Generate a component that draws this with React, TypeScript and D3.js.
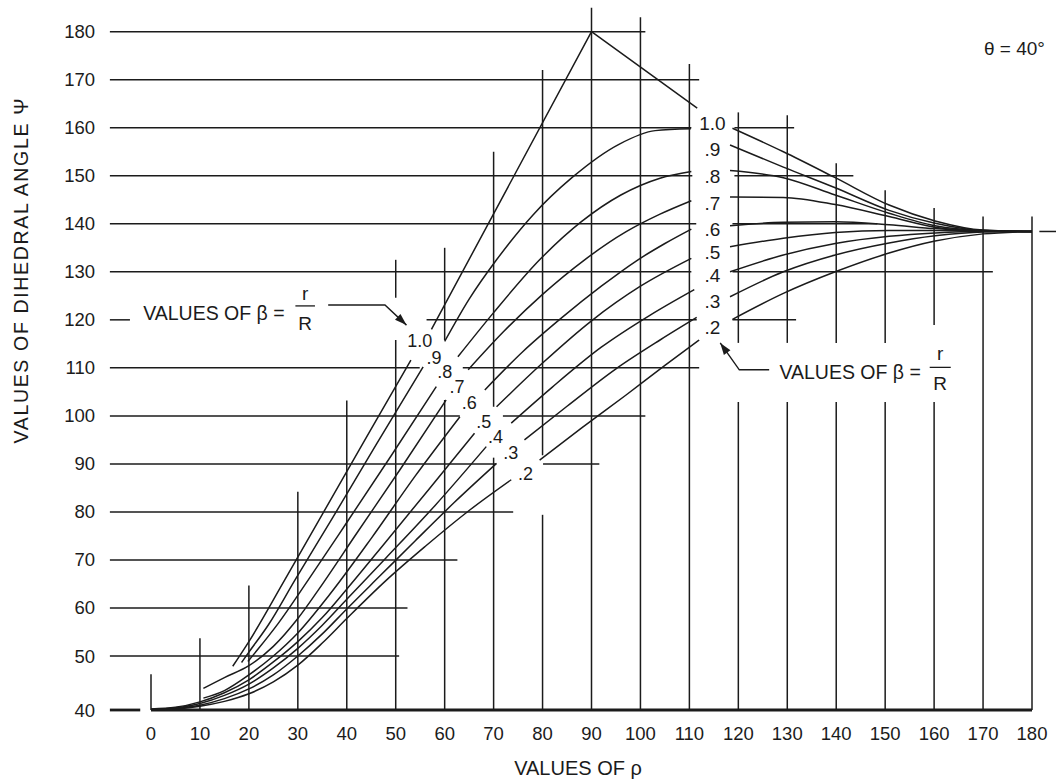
import React from "react";
import * as d3 from "d3";

type P = [number, number];

// ---------- axis ticks ----------
const rhoTicks = [0, 10, 20, 30, 40, 50, 60, 70, 80, 90, 100, 110, 120, 130, 140, 150, 160, 170, 180];
const psiTicks = [40, 50, 60, 70, 80, 90, 100, 110, 120, 130, 140, 150, 160, 170, 180];

// ---------- grid extents (data units) ----------
// horizontal lines: psi value and rho spans
const hGridPsi = [180, 170, 160, 150, 140, 130, 120, 110, 100, 90, 80, 70, 60, 50];
const hGridSpans: P[][] = [
  [[-8.4, 101]],
  [[-8.4, 112]],
  [[-8.4, 110.4], [119.2, 131.4]],
  [[-8.4, 110.6], [119.2, 143.5]],
  [[-8.4, 111.4], [118.8, 148.4]],
  [[-8.4, 110.4], [118.8, 172]],
  [[-8.4, -4.3], [56.3, 111.5], [118.8, 131.8]],
  [[-8.4, 54.9], [63.7, 112]],
  [[-8.4, 63.1], [71.9, 101]],
  [[-8.4, 70.5], [80.1, 91.6]],
  [[-8.4, 74]],
  [[-8.4, 62.6]],
  [[-8.4, 52.4]],
  [[-8.4, 50.7]],
];
// vertical lines: rho value and psi spans
const vGridRho = [0, 10, 20, 30, 40, 50, 60, 70, 80, 90, 100, 110, 120, 130, 140, 150, 160, 170, 180];
const vGridSpans: P[][] = [
  [[40, 46.6]],
  [[40, 53.7]],
  [[40, 64.7]],
  [[40, 84.2]],
  [[40, 103.2]],
  [[40, 115.8], [124.6, 132.5]],
  [[40, 103.3], [115.8, 135]],
  [[40, 91.3], [101.9, 155]],
  [[40, 79.4], [91.8, 172]],
  [[40, 185]],
  [[40, 183]],
  [[40, 173.3]],
  [[40, 102.9], [115.2, 163.2]],
  [[40, 102.9], [115.2, 162.6]],
  [[40, 102.9], [115.2, 152.6]],
  [[40, 102.9], [115.2, 147]],
  [[40, 102.9], [118.9, 143.3]],
  [[40, 141.5]],
  [[40, 141.5]],
];

// ---------- curves: psi vs rho for each beta = r/R ----------
const betaLabels = ["1.0", ".9", ".8", ".7", ".6", ".5", ".4", ".3", ".2"];

const lowerBranches: P[][] = [
  [[16.7, 48.1], [20, 53], [27.3, 65.8], [35, 79.5], [44, 95.5], [53.1, 111.6]],
  [[18.5, 48.8], [20, 50.8], [24, 56.5], [29.4, 65.8], [37, 78.6], [46, 94], [55.6, 110.2]],
  [[19.8, 49], [22, 51.6], [26, 56.8], [32.1, 65.8], [40, 77.8], [49, 91.6], [58.3, 106.1]],
  [[10.7, 44], [15, 46], [20, 48.2], [25, 52], [30, 57.8], [34.1, 63.6], [42, 75.5], [51, 89], [60.3, 103.3]],
  [[10.7, 42.2], [15, 43.6], [20, 46.5], [25, 50], [30, 54.8], [36.5, 62.8], [45, 74.5], [54, 87.5], [63.1, 99.8]],
  [[0, 40.2], [5, 40.5], [10, 41.5], [15, 43.2], [20, 45.6], [25, 48.9], [30, 53], [35, 58], [39.9, 63.8], [48, 73.8], [57, 85], [66.1, 96.4]],
  [[0, 40.1], [5, 40.4], [10, 41.2], [15, 42.7], [20, 44.8], [25, 47.8], [30, 51.6], [35, 56.4], [40, 61.8], [48, 70.4], [58, 81.3], [68.5, 93.6]],
  [[0, 40], [5, 40.3], [10, 40.9], [15, 42.1], [20, 43.9], [25, 46.5], [30, 50], [35, 54.6], [40, 59.8], [47, 66.9], [54, 74], [62, 82], [70.6, 90.1]],
  [[0, 40], [5, 40.2], [10, 40.7], [15, 41.6], [20, 43], [25, 45.2], [30, 48.3], [35, 52.7], [40, 57.8], [48.1, 65.8], [56, 72.8], [65, 80.3], [73.6, 86.7]],
];

const middleBranches: P[][] = [
  [[57.3, 118], [90, 180], [111.6, 164.1]],
  [[60, 115.5], [65, 124.3], [70.6, 132.5], [78, 141.8], [86, 149.6], [95.7, 156.6], [103, 159.4], [110.3, 159.8]],
  [[62.7, 112.3], [70, 121.5], [79.4, 132.5], [88, 140.5], [96, 146], [104, 149.5], [110.4, 150.9]],
  [[64.8, 109.6], [72, 117.5], [80, 125.3], [88.6, 132.5], [97, 138.3], [104, 142], [110.4, 144.8]],
  [[68.2, 105.4], [76, 113.4], [84, 120.5], [92, 127], [99.2, 132.3], [105, 135.9], [110.4, 138.9]],
  [[70.6, 101.9], [80, 111], [90, 119.8], [100, 127], [110.4, 132.8]],
  [[73.6, 98.5], [82, 106], [92, 114.3], [102, 121], [111, 126.3]],
  [[76.3, 95], [85, 102], [95, 109.8], [104, 115.8], [111.5, 120.5]],
  [[79.4, 90.8], [88, 97.5], [97, 104.3], [105, 110.5], [112, 115.8]],
];

const rightBranches: P[][] = [
  [[118.8, 159.9], [129.2, 155.0], [139.8, 149.6], [150.8, 143.9], [160.2, 140.6], [170, 138.7], [180, 138.4]],
  [[118.3, 156.4], [129.2, 151.8], [139.8, 147.5], [150.8, 142.8], [160.2, 140.1], [170, 138.6], [180, 138.4]],
  [[118.3, 151.1], [129.2, 149.6], [139.8, 146.0], [150.8, 142.2], [160.2, 139.6], [170, 138.6], [180, 138.4]],
  [[118.3, 145.6], [129.2, 145.5], [139.8, 144.0], [150.8, 141.5], [160.2, 139.3], [170, 138.5], [180, 138.4]],
  [[118.3, 139.6], [129.2, 140.3], [139.8, 140.4], [150.8, 139.8], [160.2, 139.0], [170, 138.5], [180, 138.4]],
  [[118.3, 135.2], [129.2, 137.0], [139.8, 138.2], [150.8, 138.6], [160.2, 138.6], [170, 138.5], [180, 138.4]],
  [[118.3, 130.0], [129.2, 133.5], [139.8, 135.9], [150.8, 137.4], [160.2, 138.1], [170, 138.4], [180, 138.4]],
  [[118.3, 124.8], [129.2, 130.0], [139.8, 133.5], [150.8, 136.0], [160.2, 137.5], [170, 138.3], [180, 138.4]],
  [[118.8, 120.1], [129.2, 125.5], [139.8, 130.0], [150.8, 133.9], [160.2, 136.4], [170, 137.9], [180, 138.4]],
];
const convergenceTail: P[] = [[181.5, 138.4], [186, 138.4]];

// label anchors (data units)
const diagLabelRho = [54.9, 57.8, 60.0, 62.5, 65.0, 68.0, 70.4, 73.5, 76.5];
const diagLabelPsi = [115.5, 112.0, 109.2, 106.0, 102.7, 98.8, 95.6, 92.2, 88.0];
const rightLabelRho = 114.7;
const rightLabelPsi = [160.9, 155.4, 149.9, 144.3, 138.9, 134.1, 129.3, 123.9, 118.5];

// annotation anchors (data units)
const leftNote = { textRho: -1.6, textPsi: 120.0, fracRho: [29.5, 33.5], fracPsi: 122.9, rPsi: 124.1, RPsi: 117.9 };
const leftArrow: P[] = [[36.2, 123.1], [47.8, 123.1], [52.2, 118.9]];
const rightNote = { textRho: 128.4, textPsi: 107.6, fracRho: [159.1, 163.4], fracPsi: 110.1, rPsi: 111.6, RPsi: 105.4 };
const rightArrow: P[] = [[126.3, 109.6], [120.2, 109.6], [116.3, 115.2]];

const FONT = "'Liberation Sans', Arial, Helvetica, sans-serif";
const INK = "#1b1b1b";

export default function App() {
  const x = d3.scaleLinear().domain([0, 180]).range([151, 1032]);
  const y = d3.scaleLinear().domain([40, 50, 180]).range([710, 656, 31.7]);
  const smooth = d3.line<P>().x((d) => x(d[0])).y((d) => y(d[1])).curve(d3.curveMonotoneX);
  const straight = d3.line<P>().x((d) => x(d[0])).y((d) => y(d[1]));

  const arrowHead = (pts: P[]) => {
    const a = pts[pts.length - 2];
    const b = pts[pts.length - 1];
    const tx = x(b[0]), ty = y(b[1]);
    const dx = tx - x(a[0]), dy = ty - y(a[1]);
    const len = Math.hypot(dx, dy);
    const ux = dx / len, uy = dy / len;
    const bx = tx - 12 * ux, by = ty - 12 * uy;
    const nx = -uy, ny = ux;
    return `${tx},${ty} ${bx + 4 * nx},${by + 4 * ny} ${bx - 4 * nx},${by - 4 * ny}`;
  };

  const fraction = (note: typeof leftNote, key: string) => {
    const cx = (x(note.fracRho[0]) + x(note.fracRho[1])) / 2;
    return (
      <g key={key}>
        <line x1={x(note.fracRho[0])} x2={x(note.fracRho[1])} y1={y(note.fracPsi)} y2={y(note.fracPsi)} stroke={INK} strokeWidth={1.3} />
        <text x={cx} y={y(note.rPsi)} textAnchor="middle" fontSize={19}>r</text>
        <text x={cx} y={y(note.RPsi)} textAnchor="middle" fontSize={19}>R</text>
      </g>
    );
  };

  return (
    <svg
      width={1056}
      height={783}
      style={{ position: "absolute", left: 0, top: 0, background: "#fff" }}
      fontFamily={FONT}
      fill={INK}
    >
      <rect x={0} y={0} width={1056} height={783} fill="#fff" />

      {/* horizontal grid */}
      {hGridPsi.map((p, i) =>
        hGridSpans[i].map((s, j) => (
          <line key={`h${i}-${j}`} x1={x(s[0])} x2={x(s[1])} y1={y(p)} y2={y(p)} stroke={INK} strokeWidth={1.5} />
        ))
      )}
      {/* vertical grid */}
      {vGridRho.map((r, i) =>
        vGridSpans[i].map((s, j) => (
          <line key={`v${i}-${j}`} x1={x(r)} x2={x(r)} y1={y(s[0])} y2={y(s[1])} stroke={INK} strokeWidth={1.5} />
        ))
      )}
      {/* base line */}
      <line x1={x(-8.4)} x2={x(-2.2)} y1={y(40)} y2={y(40)} stroke={INK} strokeWidth={2.8} />
      <line x1={x(0)} x2={x(180)} y1={y(40)} y2={y(40)} stroke={INK} strokeWidth={2.8} />

      {/* curves */}
      <g fill="none" stroke={INK} strokeWidth={1.5}>
        {lowerBranches.map((pts, i) => (
          <path key={`lo${i}`} d={smooth(pts) || ""} />
        ))}
        {middleBranches.map((pts, i) => (
          <path key={`mid${i}`} d={(i === 0 ? straight(pts) : smooth(pts)) || ""} />
        ))}
        {rightBranches.map((pts, i) => (
          <path key={`rt${i}`} d={smooth(pts) || ""} />
        ))}
        <path d={straight(convergenceTail) || ""} />
      </g>

      {/* curve labels */}
      <g fontSize={18}>
        {betaLabels.map((b, i) => (
          <text key={`dl${i}`} x={x(diagLabelRho[i])} y={y(diagLabelPsi[i])} textAnchor="middle" dominantBaseline="central">
            {b}
          </text>
        ))}
      </g>
      <g fontSize={19}>
        {betaLabels.map((b, i) => (
          <text key={`rl${i}`} x={x(rightLabelRho)} y={y(rightLabelPsi[i])} textAnchor="middle" dominantBaseline="central">
            {b}
          </text>
        ))}
      </g>

      {/* annotations */}
      <g fontSize={19.5}>
        <text x={x(leftNote.textRho)} y={y(leftNote.textPsi)}>VALUES OF β =</text>
        {fraction(leftNote, "lf")}
        <path d={straight(leftArrow) || ""} fill="none" stroke={INK} strokeWidth={1.4} />
        <polygon points={arrowHead(leftArrow)} fill={INK} />

        <text x={x(rightNote.textRho)} y={y(rightNote.textPsi)}>VALUES OF β =</text>
        {fraction(rightNote, "rf")}
        <path d={straight(rightArrow) || ""} fill="none" stroke={INK} strokeWidth={1.4} />
        <polygon points={arrowHead(rightArrow)} fill={INK} />
      </g>

      {/* tick labels */}
      <g fontSize={18.5}>
        {psiTicks.map((p) => (
          <text key={`yt${p}`} x={x(0) - 56} y={y(p)} textAnchor="end" dominantBaseline="central">
            {p}
          </text>
        ))}
        {rhoTicks.map((r) => (
          <text key={`xt${r}`} x={x(r)} y={y(40) + 23} textAnchor="middle" dominantBaseline="central">
            {r}
          </text>
        ))}
      </g>

      {/* titles */}
      <text x={578} y={775} textAnchor="middle" fontSize={20}>VALUES OF ρ</text>
      <text
        transform={`translate(28, 271) rotate(-90)`}
        textAnchor="middle"
        fontSize={19.5}
        textLength={345}
        lengthAdjust="spacing"
      >
        VALUES OF DIHEDRAL ANGLE Ψ
      </text>
      <text x={984} y={55} fontSize={19}>θ = 40°</text>
    </svg>
  );
}
